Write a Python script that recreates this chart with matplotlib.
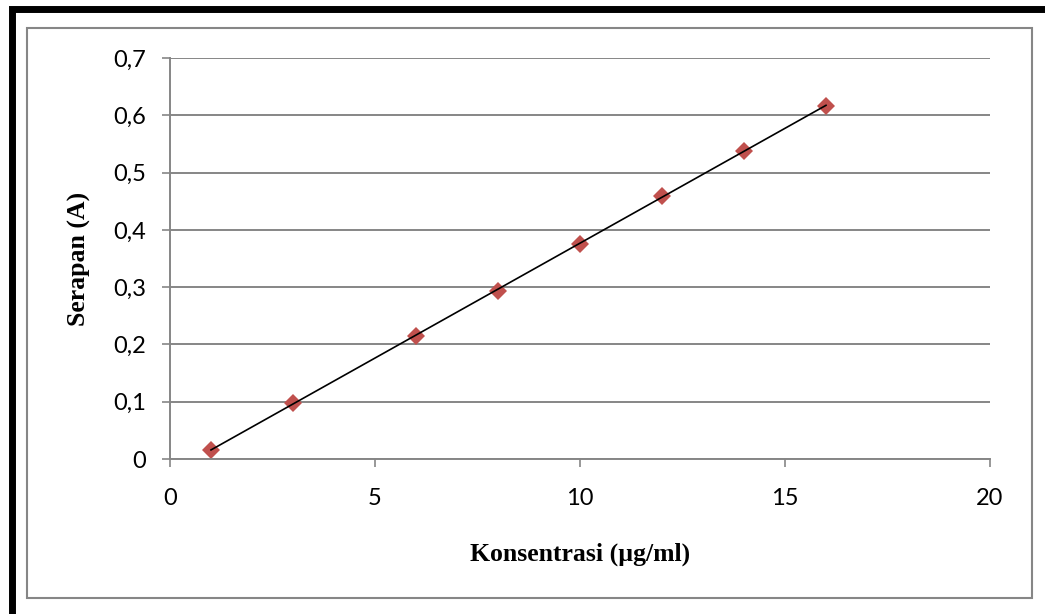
import numpy as np
import matplotlib
matplotlib.use("Agg")
import matplotlib.pyplot as plt
from matplotlib.patches import Rectangle

# data
konsentrasi = [1, 3, 6, 8, 10, 12, 14, 16]
serapan = [0.016, 0.098, 0.215, 0.294, 0.376, 0.459, 0.538, 0.617]
y_ticks = [0, 0.1, 0.2, 0.3, 0.4, 0.5, 0.6, 0.7]
y_tick_labels = ["0", "0,1", "0,2", "0,3", "0,4", "0,5", "0,6", "0,7"]
x_ticks = [0, 5, 10, 15, 20]

W, H = 1045, 614
fig = plt.figure(figsize=(W / 100, H / 100), dpi=100)
fig.patch.set_facecolor("white")

# outer black frame and inner grey chart border
fig.add_artist(Rectangle((12 / W, -0.1), 1.2, 1.1 - 9 / H, transform=fig.transFigure,
                         fill=False, edgecolor="black", linewidth=5))
fig.add_artist(Rectangle((27 / W, 1 - 598 / H), (1032 - 27) / W, (598 - 28) / H,
                         transform=fig.transFigure, fill=False, edgecolor="#868686", linewidth=1.5))

ax = fig.add_axes([170 / W, 1 - 459 / H, (990 - 170) / W, (459 - 58) / H])

grey = "#868686"
ax.set_xlim(0, 20)
ax.set_ylim(0, 0.7)
ax.set_yticks(y_ticks)
ax.set_yticklabels(y_tick_labels)
ax.set_xticks(x_ticks)
ax.grid(axis="y", color=grey, linewidth=1.4)
ax.set_axisbelow(True)
for s in ["top", "right"]:
    ax.spines[s].set_visible(False)
for s in ["left", "bottom"]:
    ax.spines[s].set_color(grey)
    ax.spines[s].set_linewidth(1.4)
ax.tick_params(direction="out", length=6, width=1.2, color=grey,
               labelsize=17, labelcolor="black")
ax.tick_params(axis="y", pad=11)
ax.tick_params(axis="x", pad=15)
for lab in ax.get_xticklabels() + ax.get_yticklabels():
    lab.set_fontfamily("Lato")

# linear trend line
k, b = np.polyfit(konsentrasi, serapan, 1)
xs = np.array([konsentrasi[0], konsentrasi[-1]])
ax.plot(xs, k * xs + b, color="black", linewidth=1.2, zorder=3)
ax.plot(konsentrasi, serapan, linestyle="none", marker="D", markersize=9.5,
        color="#C0504D", markeredgewidth=0, zorder=2, clip_on=False)

ax.set_xlabel("Konsentrasi (µg/ml)", fontfamily="Liberation Serif", fontweight="bold",
              fontsize=18.5, labelpad=24)
ax.set_ylabel("Serapan (A)", fontfamily="Liberation Serif", fontweight="bold",
              fontsize=18.5, labelpad=16)

fig.savefig("out.png", dpi=100)
